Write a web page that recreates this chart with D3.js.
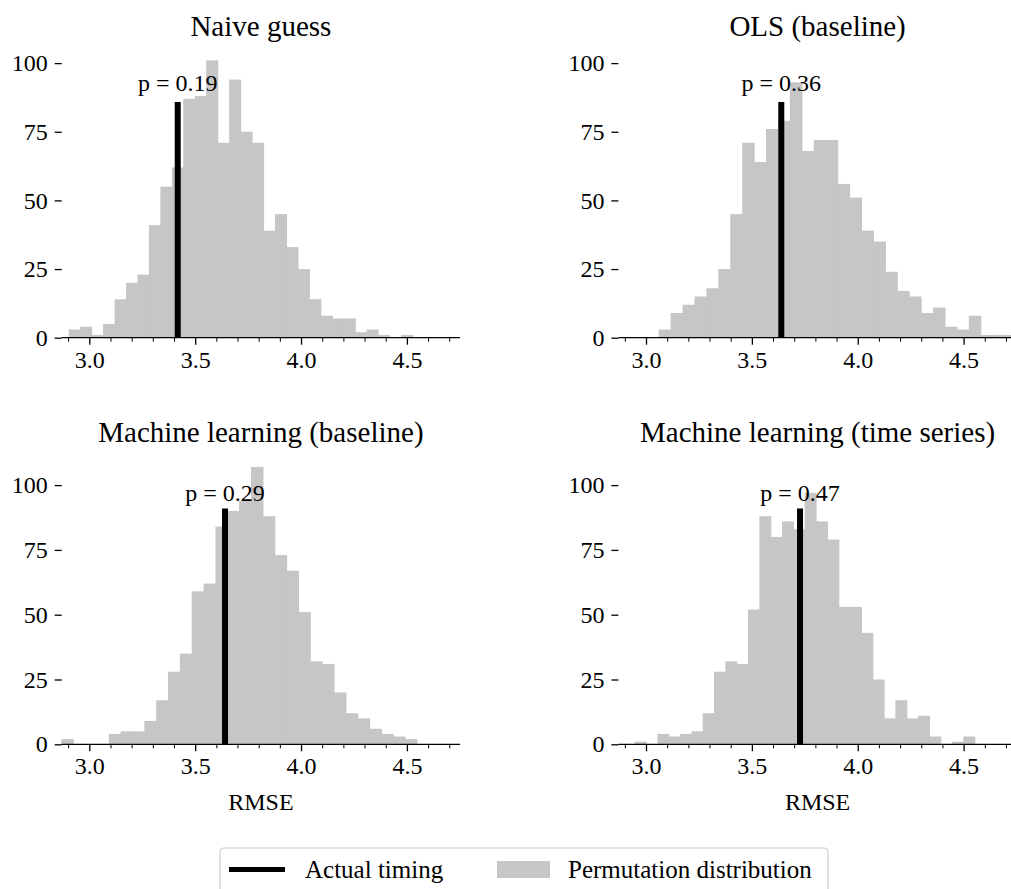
<!DOCTYPE html>
<html><head><meta charset="utf-8">
<script src="https://cdn.jsdelivr.net/npm/d3@7"></script>
<style>
body{margin:0;background:#fff}
svg{display:block}
text{font-family:"Liberation Serif","Times New Roman",serif;fill:#000}
</style>
</head><body>
<svg id="chart" width="1011" height="889"></svg>
<script>
// ---------------- data ----------------
const titles = ["Naive guess", "OLS (baseline)", "Machine learning (baseline)", "Machine learning (time series)"];
const binStarts = [2.9041, 3.0614, 2.8696, 2.948];
const binWidths = [0.05412, 0.05633, 0.05597, 0.05353];
const countsNaive  = [3,4,1,5,14,20,23,41,55,62,87,88,101,71,94,75,71,39,45,33,25,14,8,7,7,2,3,1,0,1];
const countsOLS    = [3,9,12,15,18,25,45,71,64,76,79,93,68,72,72,56,51,39,35,24,17,15,9,11,4,3,8,1,1,1];
const countsMLBase = [2,0,0,0,4,5,5,9,17,28,35,59,62,84,90,94,107,88,73,67,51,32,31,20,12,10,6,4,3,2];
const countsMLTS   = [1,0,4,3,4,5,12,28,32,31,52,88,80,86,83,97,86,79,53,53,43,25,10,17,10,11,3,0,1,3];
const actualRMSE = [3.4176, 3.639, 3.641, 3.7275];
const pValues = ["0.19", "0.36", "0.29", "0.47"];
const xTicks = [3.0, 3.5, 4.0, 4.5];
const xMinorTicks = [2.9, 3.1, 3.2, 3.3, 3.4, 3.6, 3.7, 3.8, 3.9, 4.1, 4.2, 4.3, 4.4, 4.6, 4.7];
const yTicks = [0, 25, 50, 75, 100];
const legendLabels = ["Actual timing", "Permutation distribution"];

const allCounts = [countsNaive, countsOLS, countsMLBase, countsMLTS];

// ---------------- layout ----------------
const svg = d3.select("#chart");
const colX = [[61.7, 460.1], [618.4, 1016.8]];
const rowBottom = [337.7, 744.3];
const axH = 291.2;
const barColor = "#c6c6c6";

const xMin = d3.min(binStarts);
const xMax = d3.max(binStarts.map((s, i) => s + allCounts[i].length * binWidths[i]));
const rowMax = [d3.max(countsNaive.concat(countsOLS)), d3.max(countsMLBase.concat(countsMLTS))];

allCounts.forEach((counts, i) => {
  const col = i % 2, row = Math.floor(i / 2);
  const x = d3.scaleLinear().domain([xMin, xMax]).range(colX[col]);
  const y = d3.scaleLinear().domain([0, rowMax[row] * 1.05]).range([rowBottom[row], rowBottom[row] - axH]);
  const g = svg.append("g");

  const bins = counts.map((c, k) => ({x0: binStarts[i] + k * binWidths[i], x1: binStarts[i] + (k + 1) * binWidths[i], c}));
  g.selectAll("rect.bar").data(bins.filter(d => d.c > 0)).join("rect")
    .attr("x", d => x(d.x0) - 0.3).attr("width", d => x(d.x1) - x(d.x0) + 0.6)
    .attr("y", d => y(d.c)).attr("height", d => y(0) - y(d.c))
    .attr("fill", barColor);

  // actual line
  const lineTop = rowMax[row] * 0.85;
  g.append("line").attr("x1", x(actualRMSE[i])).attr("x2", x(actualRMSE[i]))
    .attr("y1", y(0)).attr("y2", y(lineTop)).attr("stroke", "#000").attr("stroke-width", 6);
  g.append("text").attr("x", x(actualRMSE[i])).attr("y", y(lineTop) - (row === 0 ? 11 : 7.5))
    .attr("text-anchor", "middle").attr("font-size", 24).text("p = " + pValues[i]);

  // x axis
  const xa = g.append("g").attr("transform", `translate(0,${y(0)})`)
    .call(d3.axisBottom(x).tickValues(xTicks).tickFormat(d3.format(".1f")).tickSize(7).tickPadding(6));
  xa.select(".domain").attr("stroke", "#000").attr("stroke-width", 1.3).attr("d", `M${colX[col][0]},0H${colX[col][1]}`);
  xa.selectAll(".tick line").attr("stroke", "#000").attr("stroke-width", 1.3);
  xa.selectAll(".tick text").attr("font-size", 24);
  g.append("g").attr("transform", `translate(0,${y(0)})`)
    .call(d3.axisBottom(x).tickValues(xMinorTicks).tickFormat("").tickSize(4))
    .call(s => s.select(".domain").remove())
    .selectAll(".tick line").attr("stroke", "#000").attr("stroke-width", 1);

  // y axis (no spine)
  const ya = g.append("g").attr("transform", `translate(${colX[col][0]},0)`)
    .call(d3.axisLeft(y).tickValues(yTicks).tickSize(7).tickPadding(7));
  ya.select(".domain").remove();
  ya.selectAll(".tick line").attr("stroke", "#000").attr("stroke-width", 1.3);
  ya.selectAll(".tick text").attr("font-size", 24);

  // title
  svg.append("text").attr("x", (colX[col][0] + colX[col][1]) / 2).attr("y", rowBottom[row] - axH - 11)
    .attr("text-anchor", "middle").attr("font-size", 29).text(titles[i]);
  if (row === 1) {
    svg.append("text").attr("x", (colX[col][0] + colX[col][1]) / 2).attr("y", rowBottom[row] + 66)
      .attr("text-anchor", "middle").attr("font-size", 24).text("RMSE");
  }
});

// legend
const lg = svg.append("g");
lg.append("rect").attr("x", 220).attr("y", 848).attr("width", 608).attr("height", 60).attr("rx", 4)
  .attr("fill", "#fff").attr("stroke", "#cccccc").attr("stroke-width", 1.2);
lg.append("line").attr("x1", 229).attr("x2", 285).attr("y1", 869.5).attr("y2", 869.5).attr("stroke", "#000").attr("stroke-width", 5);
lg.append("text").attr("x", 305).attr("y", 878).attr("font-size", 25).text(legendLabels[0]);
lg.append("rect").attr("x", 497).attr("y", 861).attr("width", 53).attr("height", 17).attr("fill", barColor);
lg.append("text").attr("x", 568).attr("y", 878).attr("font-size", 25).text(legendLabels[1]);
</script>
</body></html>
